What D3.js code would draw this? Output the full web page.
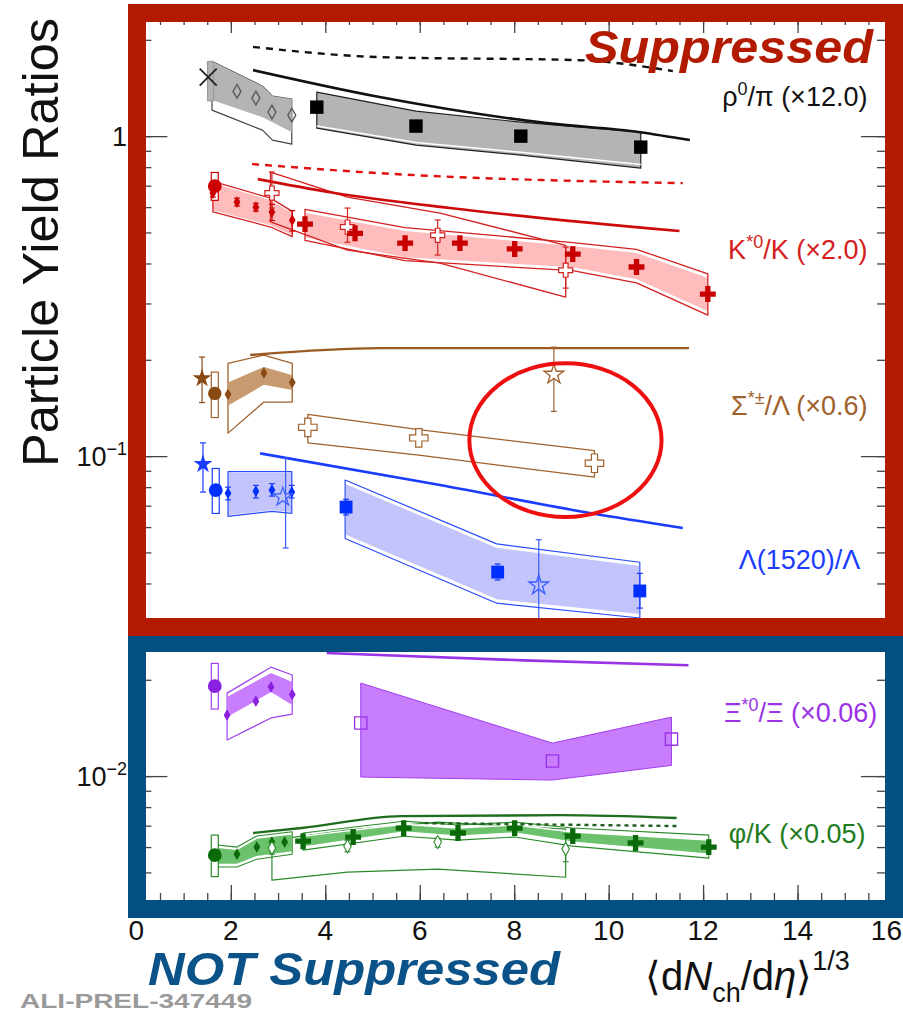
<!DOCTYPE html>
<html>
<head>
<meta charset="utf-8">
<script src="https://d3js.org/d3.v7.min.js"></script>
<style>
  html,body{margin:0;padding:0;background:#fff;}
  svg{display:block;}
  text{font-family:"Liberation Sans",Arial,Helvetica,sans-serif;}
</style>
</head>
<body>
<svg id="chart" width="903" height="1024"></svg>
<script>
// ---------- axes ----------
const xTickValues = [0, 2, 4, 6, 8, 10, 12, 14, 16];
const xDomain = [0, 16];
const yDomain = [0.0041, 2.34];
const yMajorLabels = [
  {v: 1, base: "1", exp: ""},
  {v: 0.1, base: "10", exp: "\u22121"},
  {v: 0.01, base: "10", exp: "\u22122"}
];

// ---------- rho0/pi (x12.0) ----------
const rhoModelDashed = [[2.47,1.90],[5.15,1.766],[9.39,1.727],[11.36,1.597]];
const rhoModelSolid  = [[2.47,1.608],[5.15,1.325],[8.69,1.098],[10.66,1.029],[11.72,0.972]];
const rhoPP7 = [[1.52,1.53]];
const rhoPP7Box = [[1.57,1.29,1.71]];
const rhoPP13 = [[2.13,1.38],[2.53,1.315],[2.87,1.189],[3.29,1.163]];
const rhoPPBandFill = [[1.60,1.296,1.715],[2.67,1.146,1.432],[2.88,1.106,1.334],[3.29,1.029,1.306]];
const rhoPPBandOut  = [[1.60,1.206,1.715],[2.67,1.044,1.432],[2.88,0.972,1.334],[3.29,0.944,1.306]];
const rhoPbPb = [[3.82,1.232],[5.92,1.075],[8.14,1.0],[10.68,0.924]];
const rhoPbPbBandFill = [[3.82,1.075,1.373],[5.92,0.955,1.197],[8.14,0.89,1.106],[10.68,0.815,1.029]];
const rhoPbPbBandOut  = [[3.82,1.059,1.373],[5.92,0.937,1.197],[8.14,0.872,1.106],[10.68,0.794,1.029]];

// ---------- K*0/K (x2.0) ----------
const kstModelDashed = [[2.45,0.818],[5.15,0.766],[11.57,0.713]];
const kstModelSolid  = [[2.57,0.734],[4.10,0.668],[6.64,0.596],[11.50,0.505]];
const kstPP7 = [[1.66,0.698]];
const kstPP7Box = [[1.66,0.63,0.77]];
const kstPP13 = [[1.62,0.664],[2.13,0.622],[2.53,0.600],[2.87,0.579],[3.30,0.546]];
const kstPP13Err = [[1.62,0.645,0.684],[2.13,0.605,0.640],[2.53,0.583,0.617],[2.87,0.545,0.612],[3.30,0.505,0.585]];
const kstPPBandFill = [[1.62,0.587,0.713],[2.84,0.527,0.631],[3.30,0.491,0.574]];
const kstPPBandOut  = [[1.62,0.580,0.722],[2.84,0.520,0.640],[3.30,0.485,0.582]];
const kstPPb = [[2.87,0.664],[4.47,0.520],[6.38,0.490],[9.09,0.381]];
const kstPPbErr = [[2.87,0.596,0.772],[4.47,0.466,0.596],[6.38,0.425,0.547],[9.09,0.335,0.450]];
const kstPPbBand = [[2.84,0.540,0.772],[4.47,0.440,0.645],[6.43,0.401,0.575],[9.09,0.314,0.456]];
const kstPbPbX = [3.57,4.63,5.69,6.85,8.01,9.24,10.59,12.10];
const kstPbPbY = [0.531,0.497,0.463,0.463,0.444,0.428,0.390,0.321];
const kstPbPbBandFill = [[3.57,0.480,0.579],[5.69,0.416,0.508],[9.24,0.387,0.456],[10.59,0.355,0.434],[12.10,0.282,0.363]];
const kstPbPbBandOut  = [[3.57,0.472,0.590],[5.69,0.408,0.518],[9.24,0.380,0.465],[10.59,0.348,0.443],[12.10,0.276,0.371]];

// ---------- Sigma*/Lambda (x0.6) ----------
const sigModel = [[2.41,0.207],[5.15,0.2175],[11.7,0.2175]];
const sigPP7Star = [[1.39,0.175]];
const sigPP7StarErr = [[1.39,0.147,0.204]];
const sigPP7 = [[1.66,0.157]];
const sigPP7Box = [[1.66,0.132,0.183]];
const sigPP13 = [[1.94,0.156],[2.70,0.182],[3.30,0.170]];
const sigPPBandFill = [[1.94,0.144,0.170],[2.70,0.167,0.190],[3.30,0.161,0.179]];
const sigPPBandOut  = [[1.94,0.118,0.195],[2.70,0.1475,0.207],[3.30,0.1475,0.195]];
const sigPbPb = [[3.63,0.123],[5.98,0.114],[9.70,0.095]];
const sigPbPbBand = [[3.63,0.110,0.135],[5.98,0.1007,0.121],[9.70,0.086,0.104]];
const sigOpenStar = [[8.84,0.180]];
const sigOpenStarErr = [[8.84,0.138,0.219]];

// ---------- Lambda(1520)/Lambda ----------
const lamModel = [[2.62,0.102],[6.43,0.0812],[9.60,0.0664],[11.57,0.0596]];
const lamPP7Star = [[1.41,0.0944]];
const lamPP7StarErr = [[1.41,0.0772,0.110]];
const lamPP7 = [[1.68,0.0783]];
const lamPP7Box = [[1.68,0.0662,0.0915]];
const lamPP13 = [[1.94,0.0766],[2.53,0.0776],[2.87,0.0783],[3.29,0.0772]];
const lamPP13Err = [[1.94,0.073,0.080],[2.53,0.074,0.081],[2.87,0.075,0.082],[3.29,0.074,0.081]];
const lamPPBandFill = [[1.94,0.0654,0.0885],[2.87,0.0678,0.0885],[3.29,0.0668,0.0885]];
const lamPPBandOut  = [[1.94,0.0648,0.0895],[2.87,0.0672,0.0895],[3.29,0.0662,0.0895]];
const lamPPbStar = [[3.10,0.0745]];
const lamPPbStarErr = [[3.16,0.0516,0.0987]];
const lamPbPb = [[4.44,0.0693],[7.65,0.0434],[10.66,0.0379]];
const lamPbPbErr = [[4.44,0.0655,0.0733],[7.65,0.0410,0.0460],[10.66,0.0335,0.0430]];
const lamPbPbBandFill = [[4.42,0.0566,0.0824],[7.63,0.0355,0.0520],[10.66,0.0319,0.0456]];
const lamPbPbBandOut  = [[4.42,0.0553,0.0842],[7.63,0.0347,0.0532],[10.66,0.0312,0.0466]];
const lamOpenStar = [[8.52,0.0395]];
const lamOpenStarErr = [[8.52,0.030,0.0548]];

// ---------- Xi*0/Xi (x0.06) ----------
const xiModel = [[4.03,0.02424],[8.2,0.0230],[11.69,0.0222]];
const xiPP7 = [[1.66,0.0191]];
const xiPP7Box = [[1.66,0.0162,0.0225]];
const xiPP13 = [[1.92,0.0155],[2.53,0.01715],[2.85,0.0190],[3.30,0.0180]];
const xiPPBandFill = [[1.92,0.01529,0.01766],[2.85,0.0183,0.0210],[3.30,0.01667,0.0197]];
const xiPPBandOut  = [[1.92,0.01296,0.01817],[2.85,0.0152,0.0219],[3.30,0.01563,0.0207]];
const xiPbPb = [[4.75,0.01465],[8.81,0.01114],[11.33,0.01305]];
const xiPbPbBand = [[4.75,0.00993,0.01953],[8.81,0.00972,0.01268],[11.33,0.0108,0.01529]];

// ---------- phi/K (x0.05) ----------
const phiModelSolid  = [[2.47,0.00664],[3.50,0.00688],[5.60,0.0075],[8.97,0.00755],[11.44,0.0074]];
const phiModelDashed = [[6.1,0.00713],[11.5,0.00698]];
const phiPP7 = [[1.66,0.00566]];
const phiPP7Box = [[1.66,0.00485,0.00654]];
const phiPP13 = [[2.13,0.0057],[2.55,0.0060],[2.87,0.00622],[3.14,0.00622]];
const phiPPBandFill = [[1.66,0.0053,0.0060],[2.13,0.0053,0.0059],[2.55,0.0056,0.0064],[3.30,0.0058,0.0066]];
const phiPPBandOut  = [[1.66,0.0052,0.0061],[2.13,0.0052,0.0060],[2.55,0.0055,0.0065],[3.30,0.0057,0.0067]];
const phiPPb = [[2.87,0.00596],[4.47,0.00604],[6.38,0.00622],[9.09,0.00592]];
const phiPPbErr = [[2.87,0.0057,0.0062],[4.47,0.0058,0.0063],[6.38,0.0060,0.0064],[9.09,0.0054,0.0066]];
const phiPPbBand = [[2.87,0.00473,0.00631],[4.47,0.00501,0.00678],[6.38,0.00512,0.00718],[9.09,0.00483,0.00683]];
const phiPbPbX = [3.53,4.59,5.66,6.81,8.01,9.24,10.57,12.12];
const phiPbPbY = [0.00626,0.00645,0.00688,0.00664,0.00688,0.00649,0.00618,0.0060];
const phiPbPbBandFill = [[3.53,0.0060,0.00649],[5.66,0.00669,0.00707],[6.81,0.00649,0.00688],[8.01,0.00664,0.00703],[9.24,0.00622,0.00669],[12.12,0.0057,0.00631]];
const phiPbPbBandOut  = [[3.53,0.00587,0.00664],[5.66,0.00649,0.00723],[6.81,0.00631,0.00703],[8.01,0.00645,0.00718],[9.24,0.00604,0.00688],[12.12,0.00554,0.00654]];

// ---------- series labels (right side) ----------
const seriesLabels = [
  {parts:[["ρ",""],["0","sup"],["/π (×12.0)",""]], x:15.48, y:1.241, color:"#111"},
  {parts:[["K",""],["*0","sup"],["/K (×2.0)",""]], x:15.48, y:0.413, color:"#d42020"},
  {parts:[["Σ",""],["*±","sup"],["/Λ (×0.6)",""]], x:15.48, y:0.134, color:"#a0622d"},
  {parts:[["Λ(1520)/Λ",""]], x:15.33, y:0.0443, color:"#1a3cff"},
  {parts:[["Ξ",""],["*0","sup"],["/Ξ (×0.06)",""]], x:15.69, y:0.01475, color:"#9a32e6"},
  {parts:[["φ/K (×0.05)",""]], x:15.44, y:0.00617, color:"#1e7b1e"}
];

// highlighted region (data coordinates)
const highlight = {x0:7.05, x1:11.12, y0:0.0645, y1:0.195};

// ---------- scales ----------
const svg = d3.select("#chart");
const x = d3.scaleLinear().domain(xDomain).range([136.4, 892]);
const y = d3.scaleLog().domain(yDomain).range([900, 18]);

const gData = svg.append("g");

const area = d3.area().x(d => x(d[0])).y0(d => y(d[1])).y1(d => y(d[2]));
const line = d3.line().x(d => x(d[0])).y(d => y(d[1]));
const smooth = d3.line().x(d => x(d[0])).y(d => y(d[1])).curve(d3.curveMonotoneX);

function band(arr, fill, stroke, sw, opacity) {
  gData.append("path").attr("d", area(arr))
    .attr("fill", fill || "none").attr("fill-opacity", opacity == null ? 1 : opacity)
    .attr("stroke", stroke || "none").attr("stroke-width", sw || 0)
    .attr("stroke-linejoin", "round");
}
function model(arr, color, dash, sw) {
  gData.append("path").attr("d", smooth(arr)).attr("fill", "none")
    .attr("stroke", color).attr("stroke-width", sw || 2.6)
    .attr("stroke-dasharray", dash || null);
}
function markers(arr, type, size, fill, stroke, sw) {
  const sym = d3.symbol().type(type).size(size);
  gData.append("g").selectAll("path").data(arr).join("path")
    .attr("d", sym)
    .attr("transform", d => `translate(${x(d[0])},${y(d[1])})`)
    .attr("fill", fill).attr("stroke", stroke || "none").attr("stroke-width", sw || 0);
}
function errs(arr, color, cap, sw) {
  const g = gData.append("g").attr("stroke", color).attr("stroke-width", sw || 1.2);
  arr.forEach(d => {
    g.append("line").attr("x1", x(d[0])).attr("x2", x(d[0])).attr("y1", y(d[1])).attr("y2", y(d[2]));
    if (cap) {
      [d[1], d[2]].forEach(v => g.append("line")
        .attr("x1", x(d[0]) - cap).attr("x2", x(d[0]) + cap).attr("y1", y(v)).attr("y2", y(v)));
    }
  });
}
function boxes(arr, color, fill, hw) {
  gData.append("g").selectAll("rect").data(arr).join("rect")
    .attr("x", d => x(d[0]) - hw).attr("width", 2 * hw)
    .attr("y", d => y(d[2])).attr("height", d => y(d[1]) - y(d[2]))
    .attr("fill", fill || "none").attr("stroke", color).attr("stroke-width", 1.2);
}
const zip = (xs, ys) => xs.map((v, i) => [v, ys[i]]);

// ===== rho0/pi =====
band(rhoPPBandOut, "#fff", "#444", 1.2);
band(rhoPPBandFill, "#b4b4b4", null);
band(rhoPbPbBandOut, "#b4b4b4", "#222", 1.2);
gData.append("path").attr("d", line(rhoPbPbBandFill.map(d => [d[0], d[1]])))
  .attr("fill", "none").attr("stroke", "#fff").attr("stroke-width", 1.5);
boxes(rhoPP7Box, "#999", "#b4b4b4", 3);
model(rhoModelDashed, "#111", "7,6", 2.4);
model(rhoModelSolid, "#111", null, 2.6);
markers(rhoPP13, d3.symbolDiamond, 55, "none", "#555", 1.3);
markers(rhoPP7, d3.symbolTimes, 190, "none", "#222", 1.8);
markers(rhoPbPb, d3.symbolSquare, 180, "#000");

// ===== K*0/K =====
band(kstPPBandFill, "#ffbcbc", null);
band(kstPPBandOut, "none", "#d42020", 1.3);
band(kstPbPbBandFill, "#ffbcbc", "#fff", 1.6);
band(kstPbPbBandOut, "none", "#d42020", 1.3);
band(kstPPbBand, "none", "#d42020", 1.3);
model(kstModelDashed, "#e01010", "7,6", 2.4);
model(kstModelSolid, "#cc0a0a", null, 2.6);
boxes(kstPP7Box, "#cc0000", "#fff", 3.5);
errs(kstPP13Err, "#cc0000", 3, 1.2);
markers(kstPP13, d3.symbolDiamond, 40, "#cc0000");
markers(kstPP7, d3.symbolCircle, 150, "#cc0000");
errs(kstPPbErr, "#d42020", 3, 1.2);
markers(kstPPb, d3.symbolCross, 110, "#fff", "#d42020", 1.2);
markers(zip(kstPbPbX, kstPbPbY), d3.symbolCross, 140, "#c80000");

// ===== Sigma*/Lambda =====
band(sigPPBandOut, "none", "#a0622d", 1.3);
band(sigPPBandFill, "#c89a70", null);
band(sigPbPbBand, "none", "#a0622d", 1.3);
model(sigModel, "#9a5a22", null, 2.4);
errs(sigPP7StarErr, "#8a4a14", 3, 1.2);
markers(sigPP7Star, d3.symbolStar, 110, "#8a4a14");
boxes(sigPP7Box, "#a0622d", "#fff", 3.5);
markers(sigPP7, d3.symbolCircle, 140, "#8a4a14");
markers(sigPP13, d3.symbolDiamond, 40, "#8a4a14");
markers(sigPbPb, d3.symbolCross, 190, "#fff", "#a0622d", 1.2);
errs(sigOpenStarErr, "#a0622d", 3, 1.2);
markers(sigOpenStar, d3.symbolStar, 120, "#fff", "#a0622d", 1.3);

// ===== Lambda(1520)/Lambda =====
band(lamPPBandFill, "#c2c4fb", null);
band(lamPPBandOut, "none", "#2a4cff", 1.2);
band(lamPbPbBandFill, "#c2c4fb", "#fff", 1.6);
band(lamPbPbBandOut, "none", "#2a4cff", 1.2);
model(lamModel, "#1a3cff", null, 2.6);
errs(lamPP7StarErr, "#1a3cff", 3, 1.2);
markers(lamPP7Star, d3.symbolStar, 110, "#1a3cff");
boxes(lamPP7Box, "#1a3cff", "#fff", 3.5);
markers(lamPP7, d3.symbolCircle, 150, "#0030ff");
errs(lamPP13Err, "#1a3cff", 3, 1.2);
markers(lamPP13, d3.symbolDiamond, 40, "#0030ff");
errs(lamPPbStarErr, "#3a5cff", 3, 1.2);
markers(lamPPbStar, d3.symbolStar, 110, "none", "#3a5cff", 1.2);
errs(lamPbPbErr, "#1a3cff", 3, 1.2);
markers(lamPbPb, d3.symbolSquare, 165, "#0030ff");
errs(lamOpenStarErr, "#3a5cff", 3, 1.2);
markers(lamOpenStar, d3.symbolStar, 120, "none", "#3a5cff", 1.3);

// ===== Xi*0/Xi =====
band(xiPPBandOut, "#fff", "#a040f0", 1.2);
band(xiPPBandFill, "#c77dfc", null);
band(xiPbPbBand, "#c77dfc", "#a040f0", 1);
model(xiModel, "#9a32e6", null, 2.6);
boxes(xiPP7Box, "#a040f0", "#fff", 3.5);
markers(xiPP7, d3.symbolCircle, 150, "#8a20e0");
markers(xiPP13, d3.symbolDiamond, 40, "#8a20e0");
markers(xiPbPb, d3.symbolSquare, 150, "none", "#9a32e6", 1.3);

// ===== phi/K =====
band(phiPPbBand, "none", "#2a8a2a", 1.2);
band(phiPPBandFill, "#6cc16c", "#fff", 1.2);
band(phiPPBandOut, "none", "#2a8a2a", 1.1);
band(phiPbPbBandFill, "#6cc16c", "#fff", 1.4);
band(phiPbPbBandOut, "none", "#2a8a2a", 1.1);
model(phiModelSolid, "#1e6e1e", null, 2.4);
model(phiModelDashed, "#1e5e1e", "4,4", 2.4);
boxes(phiPP7Box, "#2a8a2a", "#fff", 3.5);
markers(phiPP7, d3.symbolCircle, 150, "#0a6a0a");
markers(phiPP13, d3.symbolDiamond, 40, "#0a6a0a");
errs(phiPPbErr, "#2a8a2a", 3, 1.1);
markers(phiPPb, d3.symbolDiamond, 50, "#fff", "#2a8a2a", 1.1);
markers(zip(phiPbPbX, phiPbPbY), d3.symbolCross, 140, "#0a6a0a");

// ===== highlight ellipse =====
gData.append("ellipse")
  .attr("cx", (x(highlight.x0) + x(highlight.x1)) / 2)
  .attr("cy", (y(highlight.y0) + y(highlight.y1)) / 2)
  .attr("rx", (x(highlight.x1) - x(highlight.x0)) / 2)
  .attr("ry", (y(highlight.y0) - y(highlight.y1)) / 2)
  .attr("fill", "none").attr("stroke", "#ee1010").attr("stroke-width", 4);

// ===== series labels =====
seriesLabels.forEach(l => {
  const t = svg.append("text").attr("x", x(l.x)).attr("y", y(l.y))
    .attr("text-anchor", "end").attr("font-size", 27).attr("fill", l.color);
  l.parts.forEach(p => {
    if (p[1] === "sup") t.append("tspan").attr("font-size", 18).attr("dy", -11).text(p[0]);
    else {
      const s = t.append("tspan").text(p[0]);
      if (t.selectAll("tspan").size() > 1) s.attr("dy", 11);
    }
  });
});

// ===== ticks (ROOT style on all four sides) =====
const gAx = svg.append("g").attr("color", "#444");
const yAll = y.ticks();
const yMajor = yAll.filter(v => Math.abs(Math.log10(v) - Math.round(Math.log10(v))) < 1e-6);
const xMinor = d3.range(0, 16.01, 0.5);
function axisGroup(gen, tr) {
  const g = gAx.append("g").attr("transform", tr).call(gen);
  g.select(".domain").remove();
  g.selectAll("text").remove();
  g.selectAll("line").attr("stroke-width", 1.3);
}
axisGroup(d3.axisLeft(y).tickValues(yAll).tickSize(-15), "translate(136.4,0)");
axisGroup(d3.axisLeft(y).tickValues(yMajor).tickSize(-31), "translate(136.4,0)");
axisGroup(d3.axisRight(y).tickValues(yAll).tickSize(-15), "translate(892,0)");
axisGroup(d3.axisRight(y).tickValues(yMajor).tickSize(-31), "translate(892,0)");
axisGroup(d3.axisBottom(x).tickValues(xMinor).tickSize(-7), "translate(0,900)");
axisGroup(d3.axisBottom(x).tickValues(xTickValues).tickSize(-15), "translate(0,900)");
axisGroup(d3.axisTop(x).tickValues(xMinor).tickSize(-7), "translate(0,18)");
axisGroup(d3.axisTop(x).tickValues(xTickValues).tickSize(-15), "translate(0,18)");

// ===== frames =====
svg.append("rect").attr("x", 137).attr("y", 643).attr("width", 757).attr("height", 266)
  .attr("fill", "none").attr("stroke", "#034f80").attr("stroke-width", 18);
svg.append("rect").attr("x", 137).attr("y", 13).attr("width", 757).attr("height", 614)
  .attr("fill", "none").attr("stroke", "#b21b00").attr("stroke-width", 18);

// ===== tick labels =====
const xLastTick = xTickValues[xTickValues.length - 1];
svg.append("g").selectAll("text").data(xTickValues).join("text")
  .attr("x", d => d === xLastTick ? 902 : x(d)).attr("y", 940)
  .attr("text-anchor", d => d === xLastTick ? "end" : "middle")
  .attr("font-size", 28).attr("fill", "#111").text(d => d);

yMajorLabels.forEach(l => {
  const t = svg.append("text").attr("x", 127).attr("y", y(l.v) + 10)
    .attr("text-anchor", "end").attr("font-size", 27).attr("fill", "#111");
  t.append("tspan").text(l.base);
  if (l.exp) t.append("tspan").attr("font-size", 18).attr("dy", -11).text(l.exp);
});

// ===== titles =====
svg.append("text").attr("transform", "translate(58,467) rotate(-90)")
  .attr("font-size", 50).attr("fill", "#111").attr("textLength", 449)
  .attr("lengthAdjust", "spacingAndGlyphs").text("Particle Yield Ratios");

const xt = svg.append("text").attr("x", 645).attr("y", 990).attr("font-size", 40).attr("fill", "#111");
xt.append("tspan").text("\u27E8d");
xt.append("tspan").attr("font-style", "italic").text("N");
xt.append("tspan").attr("font-size", 27).attr("dy", 12).text("ch");
xt.append("tspan").attr("dy", -12).text("/d");
xt.append("tspan").attr("font-style", "italic").text("η");
xt.append("tspan").text("\u27E9");
xt.append("tspan").attr("font-size", 27).attr("dy", -20).text("1/3");

svg.append("text").attr("x", 585).attr("y", 63).attr("font-size", 46)
  .attr("font-weight", "bold").attr("font-style", "italic").attr("fill", "#b21b00")
  .attr("textLength", 288).attr("lengthAdjust", "spacingAndGlyphs").text("Suppressed");

svg.append("text").attr("x", 148).attr("y", 985).attr("font-size", 46)
  .attr("font-weight", "bold").attr("font-style", "italic").attr("fill", "#0a5288")
  .attr("textLength", 412).attr("lengthAdjust", "spacingAndGlyphs").text("NOT Suppressed");

svg.append("text").attr("x", 20).attr("y", 1008).attr("font-size", 20)
  .attr("font-family", "'Liberation Mono','DejaVu Sans Mono',monospace").attr("font-weight", "bold")
  .attr("fill", "#9a9a9a").attr("textLength", 232).attr("lengthAdjust", "spacingAndGlyphs")
  .text("ALI-PREL-347449");
</script>
</body>
</html>
